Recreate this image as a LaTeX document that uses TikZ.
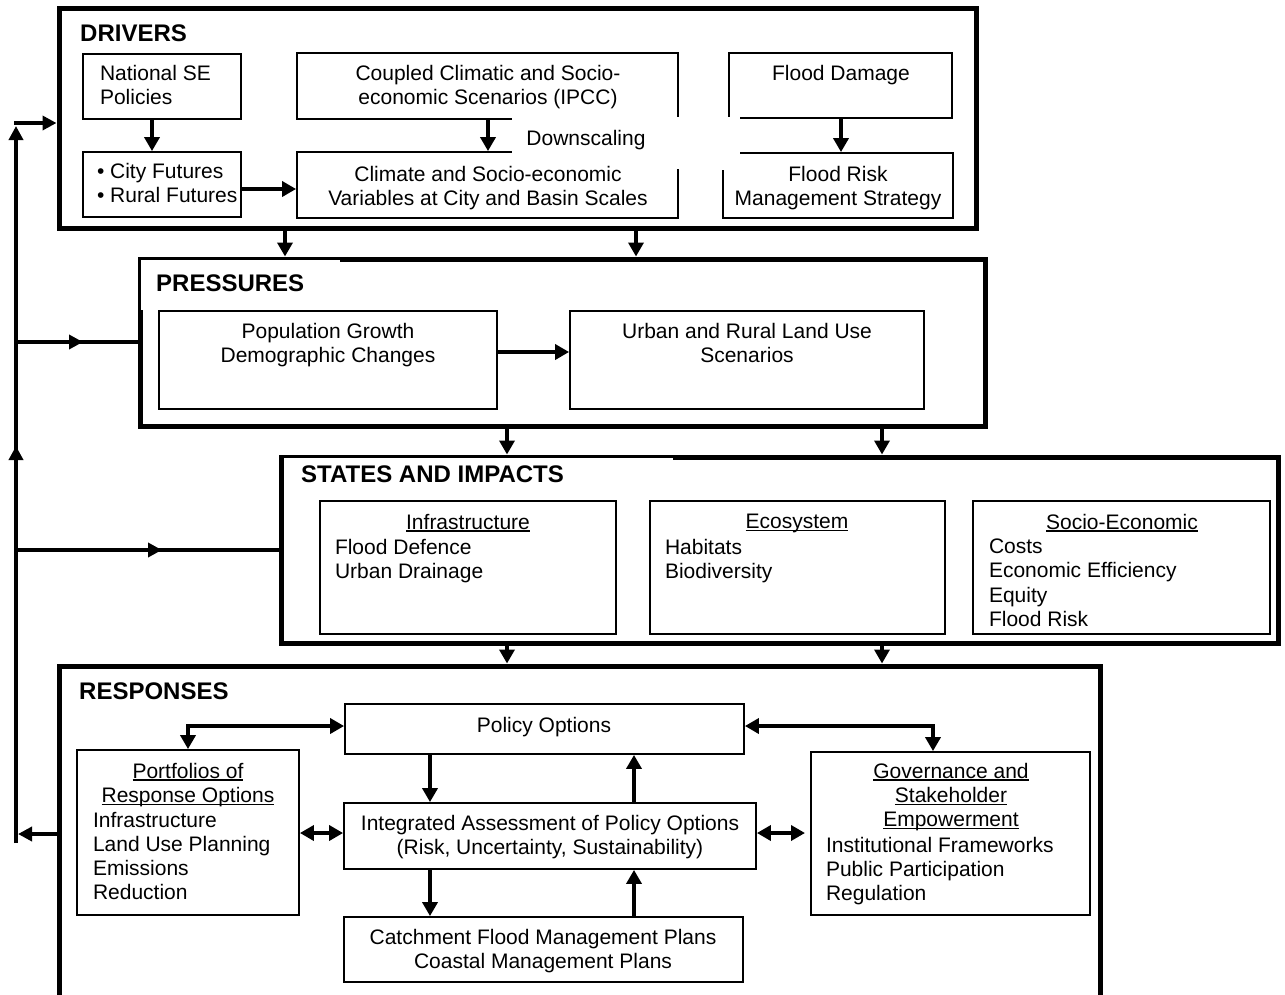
\documentclass[tikz,border=0pt]{standalone}
\usepackage{fontspec}
\setmainfont{Liberation Sans}
\usetikzlibrary{arrows.meta,decorations.markings}
\newsavebox\ulbox
\newcommand\ulwords[1]{\sbox\ulbox{#1}\rlap{\rule[-2.6pt]{\wd\ulbox}{1.4pt}}\usebox\ulbox}
\begin{document}
\begin{tikzpicture}[x=1pt,y=-1pt,
  frame/.style={draw, line width=5pt, rectangle, inner sep=0pt},
  box/.style={draw, line width=1.8pt, rectangle, inner sep=0pt},
  txt/.style={font=\fontsize{21}{24.2}\selectfont, inner sep=0pt, outer sep=0pt},
  head/.style={font=\fontsize{24}{28}\selectfont\bfseries, inner sep=0pt, anchor=north west},
  arr/.style={line width=4pt, -{Triangle[width=15pt,length=14pt]}},
  dblarr/.style={line width=4pt, {Triangle[width=15pt,length=14pt]}-{Triangle[width=15pt,length=14pt]}},
  fb/.style={line width=4pt},
  fbarr/.style={line width=4pt, -{Triangle[width=14pt,length=14pt]}},
  midarrow/.style={postaction={decorate, decoration={markings,
      mark=at position #1 with {\arrow{Triangle[width=14pt,length=14pt]}}}}}]
\useasboundingbox (0,0) rectangle (1285,994);
\clip (0,0) rectangle (1285,994);

% ---------------- DRIVERS ----------------
\node[frame, minimum width=917pt, minimum height=220pt] (drivers) at (517.5,118) {};
\node[box, minimum width=158pt, minimum height=65pt] (natl) at (162,86.5) {};
\node[box, minimum width=158pt, minimum height=65pt] (city) at (162,184.5) {};
\node[box, minimum width=381pt, minimum height=66pt] (coupled) at (487.5,86) {};
\node[box, minimum width=381pt, minimum height=66pt] (climate) at (487.5,185) {};
\node[box, minimum width=223pt, minimum height=65pt] (fdam) at (840.5,85.5) {};
\node[box, minimum width=230pt, minimum height=65pt] (frisk) at (838,185.5) {};
% blank label areas over the box edges
\fill[white] (512,116.5) rectangle (684,168.5);
\fill[white] (721,116.5) rectangle (740,169.5);

\node[head] (tdrivers) at (80,25) {DRIVERS};
\node[txt, anchor=north west, align=left] (tnatl) at (100,65.5) {National SE\\Policies};
\node[txt, anchor=north west, align=left] (tcity) at (97,163.5) {• City Futures\\• Rural Futures};
\node[txt, anchor=north, align=center] (tcoupled) at (488,65.5) {Coupled Climatic and Socio-\\economic Scenarios (IPCC)};
\node[txt, anchor=north] (tdown) at (586,130.5) {Downscaling};
\node[txt, anchor=north, align=center] (tclimate) at (488,166.5) {Climate and Socio-economic\\Variables at City and Basin Scales};
\node[txt, anchor=north] (tfdam) at (841,65.5) {Flood Damage};
\node[txt, anchor=north, align=center] (tfrisk) at (838,166.5) {Flood Risk\\Management Strategy};

\coordinate (x152) at (152,0);
\coordinate (x488) at (488,0);
\coordinate (x841) at (841,0);
\coordinate (y189) at (0,189);
\draw[arr] (natl.south -| x152) -- (city.north -| x152);
\draw[arr] (coupled.south -| x488) -- (climate.north -| x488);
\draw[arr] (fdam.south -| x841) -- (frisk.north -| x841);
\draw[arr] (city.east |- y189) -- (climate.west |- y189);

% ---------------- PRESSURES ----------------
\node[frame, minimum width=845pt, minimum height=167pt] (pressures) at (562.5,342.5) {};
\fill[white] (140.5,259.5) rectangle (340,310);
\node[box, minimum width=338pt, minimum height=98pt] (pop) at (328,360) {};
\node[box, minimum width=354pt, minimum height=98pt] (urban) at (747,360) {};
\node[head] (tpressures) at (156,275) {PRESSURES};
\node[txt, anchor=north, align=center] (tpop) at (328,323.5) {Population Growth\\Demographic Changes};
\node[txt, anchor=north, align=center] (turban) at (747,323.5) {Urban and Rural Land Use\\Scenarios};
\coordinate (y352) at (0,352);
\draw[arr] (pop.east |- y352) -- (urban.west |- y352);

\coordinate (x285) at (285,0);
\coordinate (x636) at (636,0);
\draw[arr] (drivers.south -| x285) -- (pressures.north -| x285);
\draw[arr] (drivers.south -| x636) -- (pressures.north -| x636);

% ---------------- STATES AND IMPACTS ----------------
\node[frame, minimum width=997pt, minimum height=186pt] (states) at (779.5,550) {};
\fill[white] (283.5,457.5) rectangle (673,498);
\node[box, minimum width=296pt, minimum height=133pt] (infra) at (468,567.5) {};
\node[box, minimum width=295pt, minimum height=133pt] (eco) at (797.5,567.5) {};
\node[box, minimum width=297pt, minimum height=133pt] (socio) at (1121.5,567.5) {};
\node[head] (tstates) at (301,466) {STATES AND IMPACTS};
\node[txt, anchor=north] (hinfra) at (468,514) {\ulwords{Infrastructure}};
\node[txt, anchor=north west, align=left] (linfra) at (335,539) {Flood Defence\\Urban Drainage};
\node[txt, anchor=north] (heco) at (797,514) {\ulwords{Ecosystem}};
\node[txt, anchor=north west, align=left] (leco) at (665,539) {Habitats\\Biodiversity};
\node[txt, anchor=north] (hsocio) at (1122,514) {\ulwords{Socio-Economic}};
\node[txt, anchor=north west, align=left] (lsocio) at (989,539) {Costs\\Economic Efficiency\\Equity\\Flood Risk};

\coordinate (x507) at (507,0);
\coordinate (x882) at (882,0);
\draw[arr] (pressures.south -| x507) -- (states.north -| x507);
\draw[arr] (pressures.south -| x882) -- (states.north -| x882);

% ---------------- RESPONSES ----------------
\node[frame, minimum width=1041pt, minimum height=344pt] (responses) at (579.5,838) {};
\node[box, minimum width=399pt, minimum height=50pt] (policy) at (544.5,729) {};
\node[box, minimum width=412pt, minimum height=66pt] (integ) at (550,836) {};
\node[box, minimum width=399pt, minimum height=65pt] (catch) at (543.5,949.5) {};
\node[box, minimum width=222pt, minimum height=165pt] (portf) at (188,832.5) {};
\node[box, minimum width=279pt, minimum height=163pt] (gov) at (950.5,833.5) {};

\node[head] (tresponses) at (79,683) {RESPONSES};
\node[txt, anchor=north] (tpolicy) at (544,717) {Policy Options};
\node[txt, anchor=north, align=center] (tinteg) at (550,815) {Integrated Assessment of Policy Options\\(Risk, Uncertainty, Sustainability)};
\node[txt, anchor=north, align=center] (tcatch) at (543,929) {Catchment Flood Management Plans\\Coastal Management Plans};
\node[txt, anchor=north, align=center] (hportf) at (188,763) {\ulwords{Portfolios of}\\\ulwords{Response Options}};
\node[txt, anchor=north west, align=left] (lportf) at (93,812) {Infrastructure\\Land Use Planning\\Emissions\\Reduction};
\node[txt, anchor=north, align=center] (hgov) at (951,763) {\ulwords{Governance and}\\\ulwords{Stakeholder}\\\ulwords{Empowerment}};
\node[txt, anchor=north west, align=left] (lgov) at (826,837) {Institutional Frameworks\\Public Participation\\Regulation};

\draw[arr] (states.south -| x507) -- (responses.north -| x507);
\draw[arr] (states.south -| x882) -- (responses.north -| x882);

\coordinate (x430) at (430,0);
\coordinate (x634) at (634,0);
\coordinate (y726) at (0,726);
\coordinate (y833) at (0,833);
\coordinate (govin) at (805,833);
\coordinate (x933) at (933,0);
\draw[arr] (policy.south -| x430) -- (integ.north -| x430);
\draw[arr] (integ.north -| x634) -- (policy.south -| x634);
\draw[arr] (integ.south -| x430) -- (catch.north -| x430);
\draw[arr] (catch.north -| x634) -- (integ.south -| x634);
\draw[dblarr] (policy.west |- y726) -| (portf.north);
\draw[dblarr] (policy.east |- y726) -| (gov.north -| x933);
\draw[dblarr] (portf.east |- y833) -- (integ.west |- y833);
\draw[dblarr] (integ.east |- y833) -- (govin);

% ---------------- feedback loop on the left ----------------
\coordinate (fbbot) at (16,843);
\coordinate (fbend) at (16,126);
\coordinate (fbtop) at (14,123);
\coordinate (fb342) at (16,342);
\coordinate (fb550) at (16,550);
\coordinate (fbleft) at (18,834);
\draw[fbarr, midarrow=397pt] (fbbot) -- (fbend);
\draw[fbarr] (fbtop) -- (drivers.west |- fbtop);
\draw[fb, midarrow=67pt] (fb342) -- (pressures.west |- fb342);
\draw[fb, midarrow=146pt] (fb550) -- (states.west |- fb550);
\draw[fbarr] (responses.west |- fbleft) -- (fbleft);
\end{tikzpicture}
\end{document}
